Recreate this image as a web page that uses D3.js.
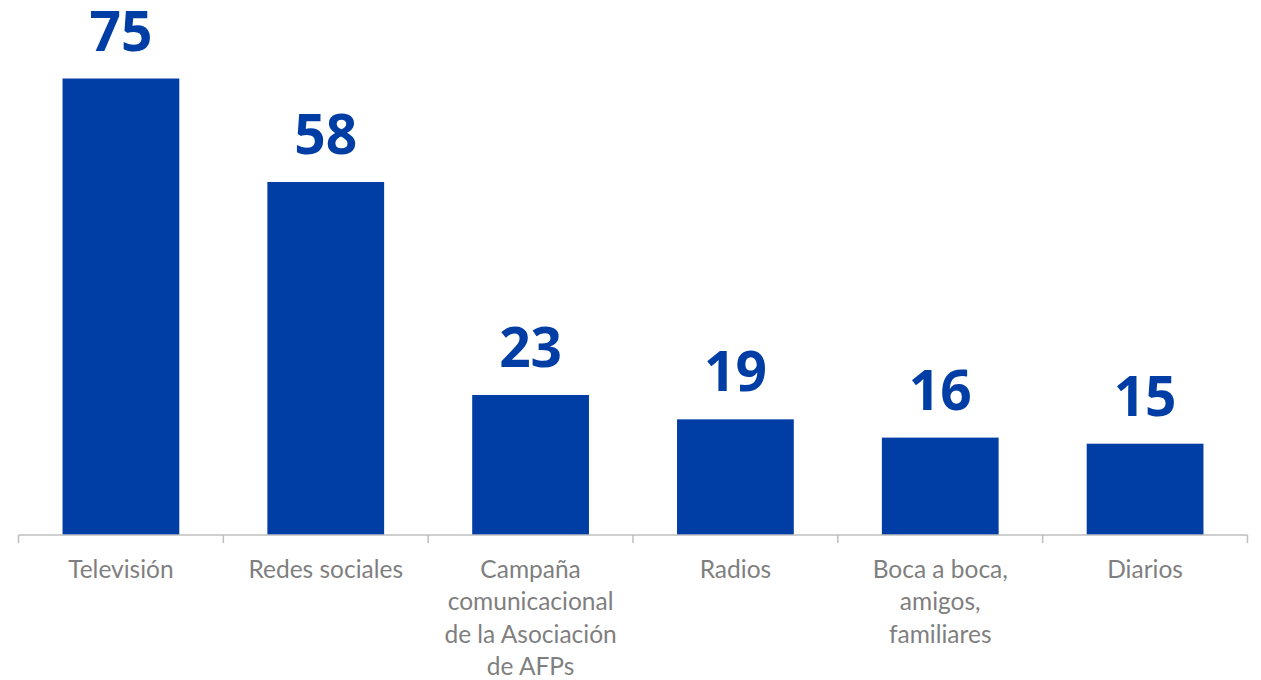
<!DOCTYPE html>
<html><head><meta charset="utf-8">
<script src="https://cdn.jsdelivr.net/npm/d3@7"></script>
<style>body{margin:0;background:#fff}</style>
</head><body>
<svg id="c" width="1261" height="680"></svg>
<script>
const categories = [
  ["Televisión"],
  ["Redes sociales"],
  ["Campaña","comunicacional","de la Asociación","de AFPs"],
  ["Radios"],
  ["Boca a boca,","amigos,","familiares"],
  ["Diarios"]
];
const values = [75, 58, 23, 19, 16, 15];

const svg = d3.select("#c");
const x0 = 18.5, x1 = 1247.5, yBase = 535;
const x = d3.scaleBand().domain(d3.range(values.length)).range([x0, x1]).paddingInner(0.43).paddingOuter(0.215);
const y = d3.scaleLinear().domain([0, 75]).range([yBase, 78.5]);

svg.selectAll("rect.bar").data(values).enter().append("rect")
  .attr("x", (d,i)=>x(i)).attr("width", x.bandwidth())
  .attr("y", d=>y(d)).attr("height", d=>yBase - y(d))
  .attr("fill", "#003DA5");

svg.selectAll("text.val").data(values).enter().append("text")
  .attr("x", (d,i)=>x(i)+x.bandwidth()/2).attr("y", d=>y(d)-28)
  .attr("text-anchor","middle").attr("font-family","'Open Sans', sans-serif")
  .attr("font-weight","bold").attr("font-size",55).attr("fill","#003DA5")
  .text(d=>d);

// axis
const step = (x1 - x0) / values.length;
svg.append("line").attr("x1",x0).attr("x2",x1).attr("y1",yBase).attr("y2",yBase)
  .attr("stroke","#BFBFBF").attr("stroke-width",1.5);
d3.range(values.length+1).forEach(i=>{
  const xx = x0 + i*step;
  svg.append("line").attr("x1",xx).attr("x2",xx).attr("y1",yBase).attr("y2",yBase+8)
    .attr("stroke","#BFBFBF").attr("stroke-width",1.5);
});

categories.forEach((lines,i)=>{
  const t = svg.append("text").attr("text-anchor","middle")
    .attr("font-family","Lato, sans-serif").attr("font-size",24.5).attr("fill","#7F7F7F");
  lines.forEach((l,j)=>{
    t.append("tspan").attr("x", x(i)+x.bandwidth()/2).attr("y", 578 + j*32.3).text(l);
  });
});
</script>
</body></html>
